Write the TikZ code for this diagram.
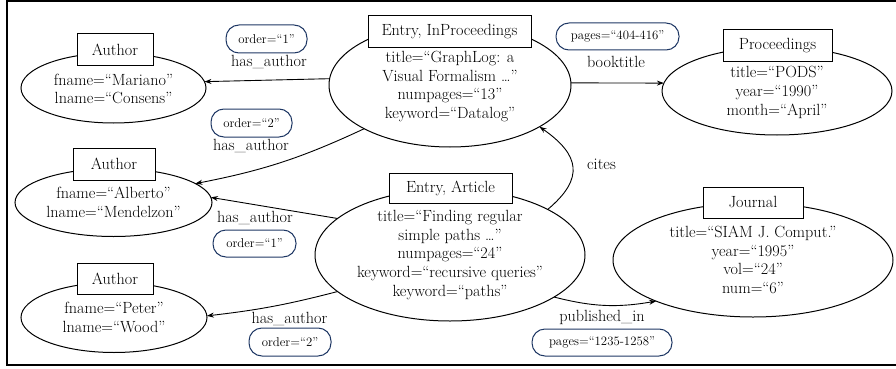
\documentclass[tikz,border=0pt]{standalone}
\usetikzlibrary{shapes.geometric,arrows.meta}
\definecolor{pillc}{RGB}{30,55,100}
\tikzset{
 ent/.style={ellipse, draw, line width=1pt, inner sep=0pt, outer sep=0pt},
 attr/.style={align=center, inner sep=0pt, font=\fontsize{16.2}{18.7}\selectfont},
 typebox/.style={draw, fill=white, line width=1pt, inner sep=0pt, font=\fontsize{16.2}{18.7}\selectfont},
 pill/.style={draw=pillc, line width=1pt, rounded corners=13pt, inner sep=0pt, font=\fontsize{12.8}{14}\selectfont},
 elab/.style={inner sep=0pt, font=\fontsize{16.2}{18.7}\selectfont},
 conn/.style={line width=0.9pt, -{Stealth[length=7pt,width=5pt]}},
}
\begin{document}
\begin{tikzpicture}[x=1pt,y=-1pt]
\useasboundingbox (0,0) rectangle (896,369);
\draw[line width=1.2pt] (896,1) -- (7,1) -- (7,365) -- (896,365);

% entity ellipses
\node[ent, minimum width=185pt, minimum height=70pt] (a1) at (113.5,88) {};
\node[ent, minimum width=197pt, minimum height=68pt] (a2) at (113.5,202.5) {};
\node[ent, minimum width=186pt, minimum height=70pt] (a3) at (114,317.5) {};
\node[ent, minimum width=242pt, minimum height=124pt] (inp) at (450,85) {};
\node[ent, minimum width=270pt, minimum height=132pt] (art) at (450,255) {};
\node[ent, minimum width=230pt, minimum height=88pt] (proc) at (777,91) {};
\node[ent, minimum width=280pt, minimum height=114pt] (jour) at (753,260) {};

% type boxes
\node[typebox, minimum width=76pt, minimum height=31pt] (a1b) at (115,49.5) {Author};
\node[typebox, minimum width=82pt, minimum height=32pt] (a2b) at (114,164) {Author};
\node[typebox, minimum width=76pt, minimum height=31pt] (a3b) at (115,278.5) {Author};
\node[typebox, minimum width=163pt, minimum height=32pt] (inpb) at (449.5,32) {Entry, InProceedings};
\node[typebox, minimum width=123pt, minimum height=30pt] (artb) at (450.5,188) {Entry, Article};
\node[typebox, minimum width=109pt, minimum height=32pt] (procb) at (777.5,46) {Proceedings};
\node[typebox, minimum width=100pt, minimum height=31pt] (jourb) at (753,202.5) {Journal};

% attributes
\node[attr] (a1t) at (113.5,89) {fname=“Mariano”\\lname=“Consens”};
\node[attr] (a2t) at (113.5,202.5) {fname=“Alberto”\\lname=“Mendelzon”};
\node[attr] (a3t) at (114,317.5) {fname=“Peter”\\lname=“Wood”};
\node[attr] (inpt) at (450,86.5) {title=“GraphLog: a\\Visual Formalism …”\\numpages=“13”\\keyword=“Datalog”};
\node[attr] (artt) at (450,255) {title=“Finding regular\\simple paths …”\\numpages=“24”\\keyword=“recursive queries”\\keyword=“paths”};
\node[attr] (proct) at (777,92.5) {title=“PODS”\\year=“1990”\\month=“April”};
\node[attr] (jourt) at (753,260) {title=“SIAM J. Comput.”\\year=“1995”\\vol=“24”\\num=“6”};

% connectors
\draw[conn] (inp.177.6) -- (a1.4.9);
\draw[conn] (inp.207.9) to[bend left=7] (a2.13.6);
\draw[conn] (art.162.2) -- (a2.3.5);
\draw[conn] (art.198.1) to[bend left=4] (a3.1.2);
\draw[conn] (inp.1) -- (proc.176);
\draw[conn] (art.25.6) to[out=40,in=-35,looseness=1.5] (inp.335.7);
\draw[conn] (art.-22.8) to[bend right=12] (jour.203.4);

% edge labels
\node[pill, minimum width=81pt, minimum height=28pt] (p1) at (266.5,39) {order=“1”};
\node[elab] (l1) at (269,62) {has\_author};
\node[pill, minimum width=81pt, minimum height=28pt] (p2) at (251.5,123) {order=“2”};
\node[elab] (l2) at (251,146) {has\_author};
\node[elab] (l3) at (255,218) {has\_author};
\node[pill, minimum width=83pt, minimum height=27pt] (p3) at (254.5,243.5) {order=“1”};
\node[elab] (l4) at (289.5,319) {has\_author};
\node[pill, minimum width=82pt, minimum height=28pt] (p4) at (290,342) {order=“2”};
\node[pill, minimum width=123pt, minimum height=27pt] (p5) at (617.5,36.5) {pages=“404-416”};
\node[elab] (l5) at (616,62) {booktitle};
\node[elab] (l6) at (601.5,164) {cites};
\node[elab] (l7) at (602,317) {published\_in};
\node[pill, minimum width=140pt, minimum height=27pt] (p6) at (602,342.5) {pages=“1235-1258”};
\end{tikzpicture}
\end{document}
